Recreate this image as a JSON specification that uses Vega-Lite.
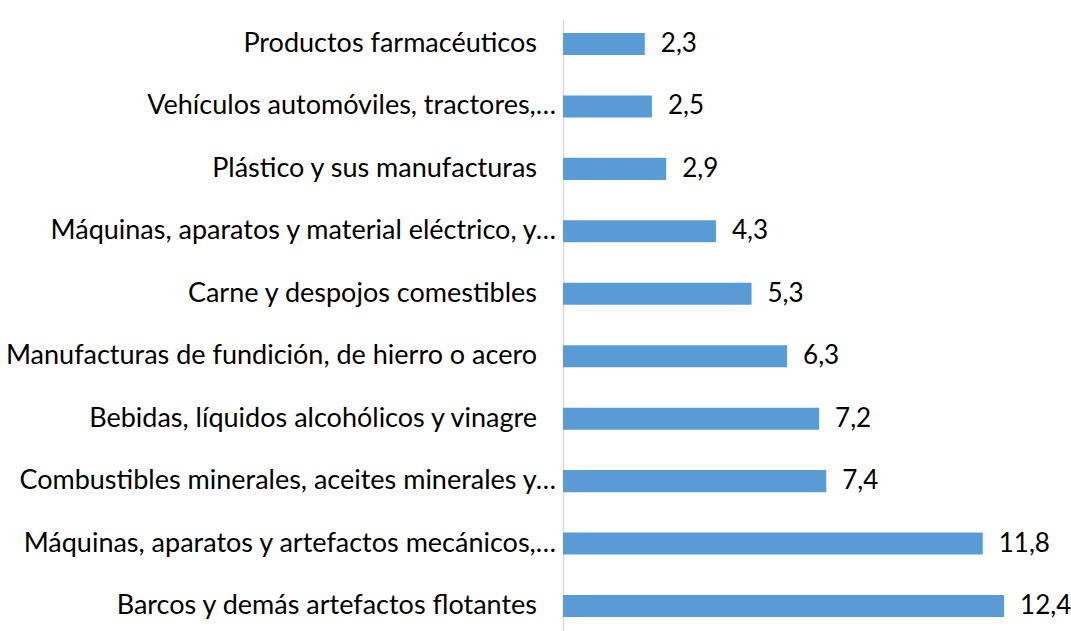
{
  "$schema": "https://vega.github.io/schema/vega-lite/v6.json",
  "autosize": "none",
  "padding": {"left": 563, "top": 19, "right": 10, "bottom": 0},
  "width": 498,
  "height": 612,
  "background": "white",
  "config": {
    "view": {"stroke": null},
    "font": "Lato",
    "locale": {"number": {"decimal": ",", "thousands": ".", "grouping": [3], "currency": ["", " €"]}}
  },
  "data": {"values": [
    {"cat": "Productos farmacéuticos", "v": 2.3},
    {"cat": "Vehículos automóviles, tractores,…", "v": 2.5},
    {"cat": "Plástico y sus manufacturas", "v": 2.9},
    {"cat": "Máquinas, aparatos y material eléctrico, y…", "v": 4.3},
    {"cat": "Carne y despojos comestibles", "v": 5.3},
    {"cat": "Manufacturas de fundición, de hierro o acero", "v": 6.3},
    {"cat": "Bebidas, líquidos alcohólicos y vinagre", "v": 7.2},
    {"cat": "Combustibles minerales, aceites minerales y…", "v": 7.4},
    {"cat": "Máquinas, aparatos y artefactos mecánicos,…", "v": 11.8},
    {"cat": "Barcos y demás artefactos flotantes", "v": 12.4}
  ]},
  "encoding": {
    "y": {
      "field": "cat", "type": "nominal", "sort": null,
      "scale": {"paddingInner": 0.647, "paddingOuter": 0.224},
      "axis": {
        "title": null, "ticks": false, "labels": false, "domainColor": "#d9d9d9", "domainWidth": 1.5
      }
    },
    "x": {
      "field": "v", "type": "quantitative",
      "scale": {"domain": [0, 14], "nice": false},
      "axis": null
    }
  },
  "layer": [
    {"mark": {"type": "bar", "color": "#5B9BD5"}},
    {"mark": {"type": "text", "align": "left", "baseline": "middle", "dx": 16, "fontSize": 26, "color": "#000000"},
     "encoding": {"text": {"field": "v", "type": "quantitative", "format": ".1f"}}},
    {"transform": [{"filter": "indexof(datum.cat, '…') < 0"}],
     "mark": {"type": "text", "align": "right", "baseline": "middle", "dx": -26, "fontSize": 27, "color": "#000000"},
     "encoding": {"x": {"datum": 0}, "text": {"field": "cat"}}},
    {"transform": [{"filter": "indexof(datum.cat, '…') >= 0"}],
     "mark": {"type": "text", "align": "right", "baseline": "middle", "dx": -7, "fontSize": 27, "color": "#000000"},
     "encoding": {"x": {"datum": 0}, "text": {"field": "cat"}}}
  ]
}
